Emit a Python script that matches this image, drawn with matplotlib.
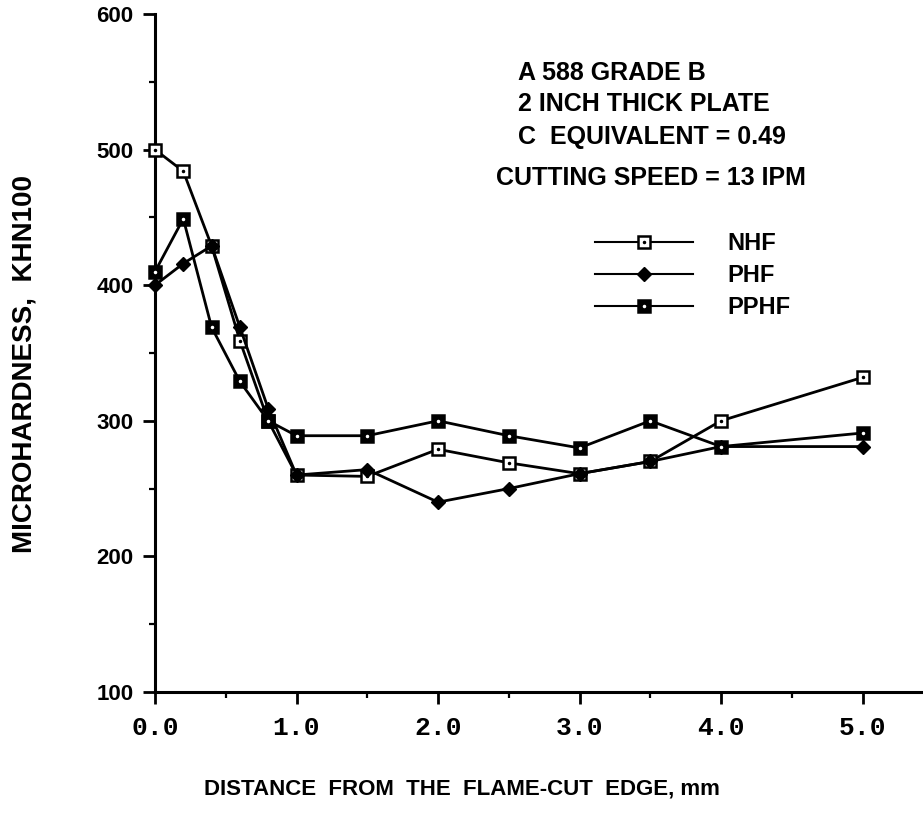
import matplotlib
matplotlib.use("Agg")
import matplotlib.pyplot as plt
from matplotlib.ticker import MultipleLocator
import numpy as np

plt.rcParams['font.family'] = ['Liberation Sans', 'DejaVu Sans']
plt.rcParams['font.weight'] = 'bold'

# distance from the flame-cut edge, mm
dist = [0.0, 0.2, 0.4, 0.6, 0.8, 1.0, 1.5, 2.0, 2.5, 3.0, 3.5, 4.0, 5.0]
# microhardness KHN100
nhf = [500, 484, 429, 359, 300, 260, 259, 279, 269, 261, 270, 300, 332]
phf = [400, 416, 429, 369, 309, 260, 264, 240, 250, 261, 270, 281, 281]
pphf = [410, 449, 369, 329, 300, 289, 289, 300, 289, 280, 300, 281, 291]

notes = ["A 588 GRADE B", "2 INCH THICK PLATE", "C  EQUIVALENT = 0.49"]
speed_note = "CUTTING SPEED = 13 IPM"

W, H = 923, 825
fig = plt.figure(figsize=(W / 100, H / 100), dpi=100)
ax = fig.add_axes([155 / W, (H - 692) / H, 1 - 155 / W, (692 - 14) / H])

lw = 2.0
ax.plot(dist, nhf, '-', color='black', lw=lw, marker='s', ms=8.5,
        mfc='white', mec='black', mew=1.8, zorder=3, clip_on=False)
ax.plot(dist, nhf, ls='none', marker='.', ms=3, color='black', zorder=4, clip_on=False)
ax.plot(dist, phf, '-', color='black', lw=lw, marker='D', ms=7.5,
        mfc='black', mec='black', zorder=3, clip_on=False)
ax.plot(dist, pphf, '-', color='black', lw=lw, marker='s', ms=8.5,
        mfc='black', mec='black', mew=1.8, zorder=3, clip_on=False)
ax.plot(dist, pphf, ls='none', marker='.', ms=3, color='white', zorder=4, clip_on=False)

ax.set_xlim(0, (W - 155) / 141.5)
ax.set_ylim(100, 600)
ax.xaxis.set_minor_locator(MultipleLocator(0.5))
ax.yaxis.set_major_locator(MultipleLocator(100))
ax.yaxis.set_minor_locator(MultipleLocator(50))
xt = np.arange(0, 5.01, 1.0)
ax.set_xticks(xt)
ax.set_xticklabels(['%.1f' % v for v in xt],
                   family='Liberation Mono', fontsize=19, weight='bold')
for t in ax.get_yticklabels():
    t.set_fontsize(16)
    t.set_weight('bold')
ax.tick_params(which='major', direction='out', length=8.5, width=2)
ax.tick_params(which='minor', direction='out', length=4.5, width=1.6)
ax.tick_params(axis='y', which='major', pad=7)
ax.tick_params(axis='x', which='major', pad=9)
for s in ['top', 'right']:
    ax.spines[s].set_visible(False)
for s in ['left', 'bottom']:
    ax.spines[s].set_linewidth(2.2)

fig.text(25 / W, 1 - 364 / H, "MICROHARDNESS,  KHN100", rotation=90,
         ha='center', va='center', fontsize=20, weight='bold')
fig.text(462 / W, 1 - 789 / H, "DISTANCE  FROM  THE  FLAME-CUT  EDGE, mm",
         ha='center', va='center', fontsize=16, weight='bold')

for txt, yp in zip(notes, [73, 104, 137]):
    fig.text(518 / W, 1 - yp / H, txt, ha='left', va='center', fontsize=18, weight='bold')
fig.text(496 / W, 1 - 178 / H, speed_note, ha='left', va='center', fontsize=18, weight='bold')

# legend
h1 = plt.Line2D([], [], color='black', lw=1.5, marker='s', ms=8.5, mfc='white', mew=1.8)
h1d = plt.Line2D([], [], ls='none', marker='.', ms=3, color='black')
h2 = plt.Line2D([], [], color='black', lw=1.5, marker='D', ms=7.5, mfc='black')
h3 = plt.Line2D([], [], color='black', lw=1.5, marker='s', ms=8.5, mfc='black', mew=1.8)
h3d = plt.Line2D([], [], ls='none', marker='.', ms=3, color='white')
leg = fig.legend([(h1, h1d), h2, (h3, h3d)], ['NHF', 'PHF', 'PPHF'],
                 loc='upper left', bbox_to_anchor=(595 / W, 1 - 232 / H),
                 frameon=False, fontsize=17, handlelength=4.15,
                 handletextpad=1.44, labelspacing=0.39, borderpad=0,
                 borderaxespad=0, numpoints=1)

fig.savefig("out.png", dpi=100)
